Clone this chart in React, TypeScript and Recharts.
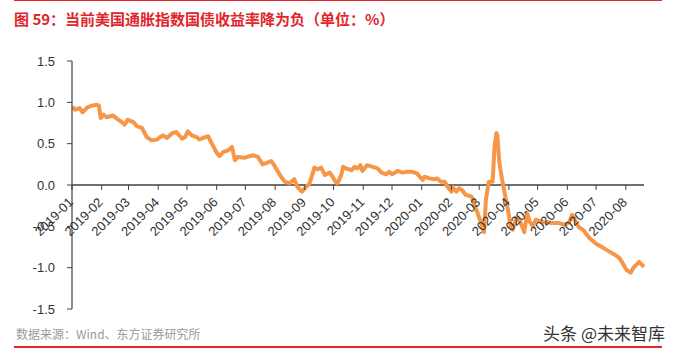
import React from "react";
import { LineChart, Line, XAxis, YAxis, ReferenceLine } from "recharts";

const dates = [
  "2019-01-02", "2019-01-04", "2019-01-09", "2019-01-12", "2019-01-17", "2019-01-22",
  "2019-01-27", "2019-01-29", "2019-01-31", "2019-02-03", "2019-02-06", "2019-02-13",
  "2019-02-17", "2019-02-21", "2019-02-25", "2019-02-28", "2019-03-06", "2019-03-10",
  "2019-03-15", "2019-03-20", "2019-03-25", "2019-03-31", "2019-04-03", "2019-04-06",
  "2019-04-10", "2019-04-16", "2019-04-20", "2019-04-26", "2019-04-29", "2019-05-02",
  "2019-05-06", "2019-05-11", "2019-05-14", "2019-05-20", "2019-05-23", "2019-05-28",
  "2019-06-01", "2019-06-04", "2019-06-08", "2019-06-13", "2019-06-17", "2019-06-20",
  "2019-06-23", "2019-06-30", "2019-07-03", "2019-07-09", "2019-07-14", "2019-07-19",
  "2019-07-24", "2019-07-28", "2019-07-31", "2019-08-06", "2019-08-11", "2019-08-16",
  "2019-08-21", "2019-08-24", "2019-08-29", "2019-09-01", "2019-09-06", "2019-09-11",
  "2019-09-14", "2019-09-18", "2019-09-22", "2019-09-27", "2019-09-30", "2019-10-03",
  "2019-10-05", "2019-10-09", "2019-10-11", "2019-10-14", "2019-10-20", "2019-10-23",
  "2019-10-26", "2019-10-29", "2019-10-31", "2019-11-05", "2019-11-11", "2019-11-16",
  "2019-11-20", "2019-11-25", "2019-11-28", "2019-12-01", "2019-12-07", "2019-12-12",
  "2019-12-17", "2019-12-22", "2019-12-27", "2020-01-02", "2020-01-04", "2020-01-09",
  "2020-01-14", "2020-01-17", "2020-01-21", "2020-01-25", "2020-01-28", "2020-02-01",
  "2020-02-02", "2020-02-06", "2020-02-09", "2020-02-12", "2020-02-16", "2020-02-22",
  "2020-02-25", "2020-02-28", "2020-03-03", "2020-03-06", "2020-03-08", "2020-03-11",
  "2020-03-15", "2020-03-17", "2020-03-19", "2020-03-20", "2020-03-22", "2020-03-25",
  "2020-03-29", "2020-03-31", "2020-04-03", "2020-04-05", "2020-04-09", "2020-04-11",
  "2020-04-14", "2020-04-17", "2020-04-20", "2020-04-23", "2020-04-26", "2020-04-29",
  "2020-05-06", "2020-05-11", "2020-05-16", "2020-05-23", "2020-05-29", "2020-06-03",
  "2020-06-06", "2020-06-10", "2020-06-13", "2020-06-18", "2020-06-24", "2020-07-01",
  "2020-07-07", "2020-07-14", "2020-07-20", "2020-07-25", "2020-07-28", "2020-08-02",
  "2020-08-06", "2020-08-09", "2020-08-15", "2020-08-20",
];

const yields = [
  0.95, 0.91, 0.93, 0.88, 0.94, 0.96,
  0.97, 0.96, 0.81, 0.85, 0.82, 0.84,
  0.80, 0.77, 0.73, 0.79, 0.76, 0.71,
  0.69, 0.58, 0.54, 0.55, 0.58, 0.60,
  0.57, 0.63, 0.64, 0.56, 0.58, 0.65,
  0.60, 0.58, 0.55, 0.58, 0.59, 0.48,
  0.39, 0.35, 0.40, 0.42, 0.46, 0.30,
  0.34, 0.33, 0.34, 0.36, 0.34, 0.25,
  0.27, 0.29, 0.24, 0.12, 0.04, 0.02,
  0.07, -0.02, -0.08, -0.04, 0.02, 0.21,
  0.19, 0.21, 0.12, 0.15, 0.10, 0.04,
  0.02, 0.12, 0.22, 0.20, 0.18, 0.22,
  0.20, 0.24, 0.17, 0.24, 0.22, 0.20,
  0.15, 0.13, 0.16, 0.13, 0.17, 0.15,
  0.16, 0.16, 0.14, 0.06, 0.10, 0.08,
  0.07, 0.08, 0.04, 0.04, -0.02, -0.08,
  -0.02, -0.08, -0.04, -0.06, -0.12, -0.14,
  -0.24, -0.33, -0.46, -0.57, -0.18, 0.04,
  0.04, 0.46, 0.63, 0.60, 0.27, 0.06,
  -0.18, -0.30, -0.51, -0.54, -0.39, -0.40,
  -0.48, -0.57, -0.34, -0.45, -0.50, -0.42,
  -0.45, -0.45, -0.46, -0.46, -0.48, -0.45,
  -0.36, -0.45, -0.51, -0.55, -0.64, -0.71,
  -0.75, -0.80, -0.84, -0.88, -0.93, -1.03,
  -1.06, -1.00, -0.93, -0.99,
];

const monthLabels = [
  "2019-01", "2019-02", "2019-03", "2019-04", "2019-05", "2019-06", "2019-07",
  "2019-08", "2019-09", "2019-10", "2019-11", "2019-12", "2020-01", "2020-02",
  "2020-03", "2020-04", "2020-05", "2020-06", "2020-07", "2020-08",
];

const yTicks = [-1.5, -1.0, -0.5, 0.0, 0.5, 1.0, 1.5];

const DAY = 86400000;
const ORIGIN = Date.UTC(2019, 0, 1);
const toDay = (s: string) => {
  const [y, m, d] = s.split("-").map(Number);
  return Math.round((Date.UTC(y, m - 1, d || 1) - ORIGIN) / DAY);
};

const data = dates.map((d, i) => ({ day: toDay(d), value: yields[i] }));
const monthTicks = monthLabels.map((m) => toDay(m));
const labelByDay: Record<number, string> = {};
monthLabels.forEach((m, i) => (labelByDay[monthTicks[i]] = m));

document.body.style.margin = "0";

const W = 675;
const H = 351;
const margin = { top: 61, right: 31, bottom: 22, left: 0 };
const X_AXIS_H = 20;
const plotH = H - margin.top - margin.bottom - X_AXIS_H;
// x labels hang off the zero line, not the bottom of the plot
const zeroShift = (plotH * (0 - yTicks[0])) / (yTicks[yTicks.length - 1] - yTicks[0]);

const axisColor = "#404040";
const font = "'Liberation Sans', Arial, sans-serif";

const MonthTick = (props: any) => {
  const { x, payload } = props;
  const y0 = margin.top + plotH - zeroShift;
  return (
    <g>
      <line x1={x} x2={x} y1={y0} y2={y0 + 5} stroke={axisColor} strokeWidth={1} />
      <text
        x={x + 2}
        y={y0 + 18}
        transform={`rotate(-45 ${x + 2} ${y0 + 18})`}
        textAnchor="end"
        fontSize={13}
        fill="#333"
        fontFamily={font}
      >
        {labelByDay[payload.value]}
      </text>
    </g>
  );
};

export default function App() {
  return (
    <div style={{ position: "relative", width: W, height: H, background: "#fff", overflow: "hidden" }}>
      <div style={{ position: "absolute", left: 14, right: 13, top: 0, height: 1, background: "#e0252b" }} />
      <div
        style={{
          position: "absolute",
          left: 14,
          top: 8,
          fontSize: 15,
          fontWeight: "bold",
          color: "#e0252b",
          fontFamily: "'Noto Sans CJK SC', sans-serif",
          whiteSpace: "nowrap",
        }}
      >
        图 59：当前美国通胀指数国债收益率降为负（单位：%）
      </div>

      <div style={{ position: "absolute", left: 0, top: 0 }}>
        <LineChart width={W} height={H} data={data} margin={margin}>
          <XAxis
            type="number"
            dataKey="day"
            domain={[0, 596]}
            ticks={monthTicks}
            axisLine={false}
            tickLine={false}
            height={X_AXIS_H}
            interval={0}
            tick={<MonthTick />}
          />
          <YAxis
            type="number"
            domain={[-1.5, 1.5]}
            ticks={yTicks}
            width={72}
            tickSize={5}
            tickMargin={12}
            tickFormatter={(v: number) => v.toFixed(1)}
            axisLine={{ stroke: axisColor, strokeWidth: 1.2 }}
            tickLine={{ stroke: axisColor }}
            tick={{ fontSize: 13, fill: "#333", fontFamily: font }}
          />
          <ReferenceLine y={0} stroke={axisColor} strokeWidth={1.5} />
          <Line
            type="linear"
            dataKey="value"
            stroke="#F79646"
            strokeWidth={4}
            strokeLinejoin="round"
            dot={false}
            isAnimationActive={false}
          />
        </LineChart>
      </div>

      <div
        style={{
          position: "absolute",
          left: 16,
          top: 325,
          fontSize: 12,
          color: "#9a9a9a",
          fontFamily: "'Noto Sans CJK SC', serif",
          whiteSpace: "nowrap",
        }}
      >
        数据来源：Wind、东方证券研究所
      </div>
      <div
        style={{
          position: "absolute",
          right: 10,
          top: 320,
          fontSize: 17,
          color: "#333",
          fontFamily: "'Noto Sans CJK SC', sans-serif",
          whiteSpace: "nowrap",
        }}
      >
        头条 @未来智库
      </div>
      <div style={{ position: "absolute", left: 14, right: 13, top: 346, height: 1.5, background: "#e0252b" }} />
    </div>
  );
}
